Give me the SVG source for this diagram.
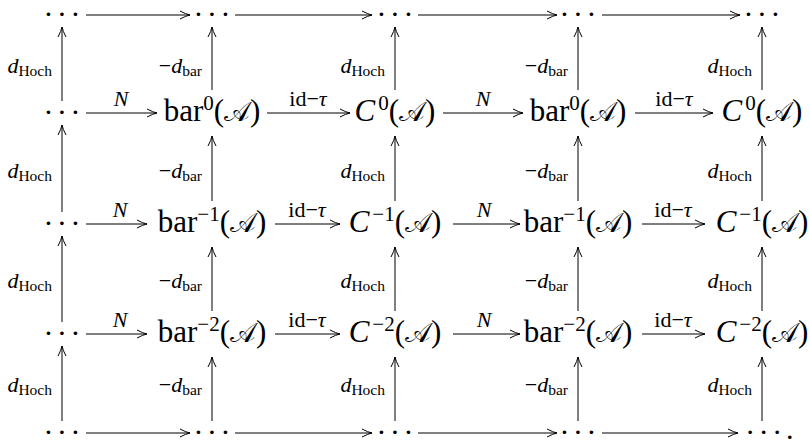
<svg xmlns="http://www.w3.org/2000/svg" width="810" height="441" viewBox="0 0 810 441">
<style>
.m{font-family:"Liberation Serif","Times New Roman",serif;font-size:31px;fill:#000}
.i{font-style:italic}
.sup{font-size:21px}
.scr{font-family:"DejaVu Serif","DejaVu Sans",serif;font-style:normal;font-size:27px}
.lbl{font-family:"Liberation Serif","Times New Roman",serif;font-size:22px;fill:#000}
.sub{font-size:15.5px}
.dots{font-family:"Liberation Serif","Times New Roman",serif;font-size:22px;font-weight:bold;letter-spacing:6.2px;fill:#000}
.ar{stroke:#000;stroke-width:1;fill:none;marker-end:url(#ah)}
</style>
<defs>
<marker id="ah" viewBox="-11 -5 12 10" refX="0" refY="0" markerWidth="12" markerHeight="10" markerUnits="userSpaceOnUse" orient="auto">
<path d="M-10,-4 Q-4,-0.8 0,0 Q-4,0.8 -10,4" fill="none" stroke="#000" stroke-width="1"/>
</marker>
</defs>

<!-- dots nodes -->
<g id="n-top-0"><text class="dots" x="65" y="21.4" text-anchor="middle">···</text></g>
<g id="n-top-1"><text class="dots" x="215" y="21.4" text-anchor="middle">···</text></g>
<g id="n-top-2"><text class="dots" x="398" y="21.4" text-anchor="middle">···</text></g>
<g id="n-top-3"><text class="dots" x="581" y="21.4" text-anchor="middle">···</text></g>
<g id="n-top-4"><text class="dots" x="765" y="21.4" text-anchor="middle">···</text></g>

<g id="n-r0-0"><text class="dots" x="65" y="119.4" text-anchor="middle">···</text></g>
<g id="n-r1-0"><text class="dots" x="65" y="230.4" text-anchor="middle">···</text></g>
<g id="n-r2-0"><text class="dots" x="65" y="340.4" text-anchor="middle">···</text></g>

<g id="n-bot-0"><text class="dots" x="65" y="439" text-anchor="middle">···</text></g>
<g id="n-bot-1"><text class="dots" x="215" y="439" text-anchor="middle">···</text></g>
<g id="n-bot-2"><text class="dots" x="398" y="439" text-anchor="middle">···</text></g>
<g id="n-bot-3"><text class="dots" x="581" y="439" text-anchor="middle">···</text></g>
<g id="n-bot-4"><text class="dots" x="746.5" y="439">···.</text></g>

<!-- row 0 -->
<g id="n-r0-1"><text class="m" x="212" y="120.5" text-anchor="middle">bar<tspan class="sup" dy="-11">0</tspan><tspan dy="11">(</tspan><tspan class="scr">𝒜</tspan>)</text></g>
<g id="n-r0-2"><text class="m" x="395" y="120.5" text-anchor="middle"><tspan class="i">C</tspan><tspan class="sup" dx="3" dy="-11">0</tspan><tspan dy="11">(</tspan><tspan class="scr">𝒜</tspan>)</text></g>
<g id="n-r0-3"><text class="m" x="578" y="120.5" text-anchor="middle">bar<tspan class="sup" dy="-11">0</tspan><tspan dy="11">(</tspan><tspan class="scr">𝒜</tspan>)</text></g>
<g id="n-r0-4"><text class="m" x="762" y="120.5" text-anchor="middle"><tspan class="i">C</tspan><tspan class="sup" dx="3" dy="-11">0</tspan><tspan dy="11">(</tspan><tspan class="scr">𝒜</tspan>)</text></g>

<!-- row -1 -->
<g id="n-r1-1"><text class="m" x="212" y="231.5" text-anchor="middle">bar<tspan class="sup" dy="-11">−1</tspan><tspan dy="11">(</tspan><tspan class="scr">𝒜</tspan>)</text></g>
<g id="n-r1-2"><text class="m" x="395" y="231.5" text-anchor="middle"><tspan class="i">C</tspan><tspan class="sup" dx="3" dy="-11">−1</tspan><tspan dy="11">(</tspan><tspan class="scr">𝒜</tspan>)</text></g>
<g id="n-r1-3"><text class="m" x="578" y="231.5" text-anchor="middle">bar<tspan class="sup" dy="-11">−1</tspan><tspan dy="11">(</tspan><tspan class="scr">𝒜</tspan>)</text></g>
<g id="n-r1-4"><text class="m" x="762" y="231.5" text-anchor="middle"><tspan class="i">C</tspan><tspan class="sup" dx="3" dy="-11">−1</tspan><tspan dy="11">(</tspan><tspan class="scr">𝒜</tspan>)</text></g>

<!-- row -2 -->
<g id="n-r2-1"><text class="m" x="212" y="341.5" text-anchor="middle">bar<tspan class="sup" dy="-11">−2</tspan><tspan dy="11">(</tspan><tspan class="scr">𝒜</tspan>)</text></g>
<g id="n-r2-2"><text class="m" x="395" y="341.5" text-anchor="middle"><tspan class="i">C</tspan><tspan class="sup" dx="3" dy="-11">−2</tspan><tspan dy="11">(</tspan><tspan class="scr">𝒜</tspan>)</text></g>
<g id="n-r2-3"><text class="m" x="578" y="341.5" text-anchor="middle">bar<tspan class="sup" dy="-11">−2</tspan><tspan dy="11">(</tspan><tspan class="scr">𝒜</tspan>)</text></g>
<g id="n-r2-4"><text class="m" x="762" y="341.5" text-anchor="middle"><tspan class="i">C</tspan><tspan class="sup" dx="3" dy="-11">−2</tspan><tspan dy="11">(</tspan><tspan class="scr">𝒜</tspan>)</text></g>

<g id="connectors">
<!-- horizontal -->
<line class="ar" x1="86" y1="15" x2="190" y2="15"/>
<line class="ar" x1="235" y1="15" x2="372" y2="15"/>
<line class="ar" x1="418" y1="15" x2="557" y2="15"/>
<line class="ar" x1="602" y1="15" x2="740" y2="15"/>

<line class="ar" x1="86" y1="113" x2="157" y2="113"/>
<line class="ar" x1="267" y1="113" x2="350" y2="113"/>
<line class="ar" x1="443" y1="113" x2="523" y2="113"/>
<line class="ar" x1="635" y1="113" x2="713" y2="113"/>

<line class="ar" x1="86" y1="224" x2="147" y2="224"/>
<line class="ar" x1="275" y1="224" x2="340" y2="224"/>
<line class="ar" x1="453" y1="224" x2="520" y2="224"/>
<line class="ar" x1="642" y1="224" x2="705" y2="224"/>

<line class="ar" x1="86" y1="334" x2="147" y2="334"/>
<line class="ar" x1="275" y1="334" x2="340" y2="334"/>
<line class="ar" x1="453" y1="334" x2="520" y2="334"/>
<line class="ar" x1="642" y1="334" x2="705" y2="334"/>

<line class="ar" x1="86" y1="433" x2="190" y2="433"/>
<line class="ar" x1="235" y1="433" x2="372" y2="433"/>
<line class="ar" x1="418" y1="433" x2="557" y2="433"/>
<line class="ar" x1="602" y1="433" x2="738" y2="433"/>

<!-- vertical -->
<line class="ar" x1="62" y1="101" x2="62" y2="27"/>
<line class="ar" x1="212" y1="90" x2="212" y2="27"/>
<line class="ar" x1="395" y1="90" x2="395" y2="27"/>
<line class="ar" x1="578" y1="90" x2="578" y2="27"/>
<line class="ar" x1="762" y1="90" x2="762" y2="27"/>

<line class="ar" x1="62" y1="212" x2="62" y2="125"/>
<line class="ar" x1="212" y1="201" x2="212" y2="136"/>
<line class="ar" x1="395" y1="201" x2="395" y2="136"/>
<line class="ar" x1="578" y1="201" x2="578" y2="136"/>
<line class="ar" x1="762" y1="201" x2="762" y2="136"/>

<line class="ar" x1="62" y1="322" x2="62" y2="236"/>
<line class="ar" x1="212" y1="311" x2="212" y2="247"/>
<line class="ar" x1="395" y1="311" x2="395" y2="247"/>
<line class="ar" x1="578" y1="311" x2="578" y2="247"/>
<line class="ar" x1="762" y1="311" x2="762" y2="247"/>

<line class="ar" x1="62" y1="421" x2="62" y2="346"/>
<line class="ar" x1="212" y1="421" x2="212" y2="357"/>
<line class="ar" x1="395" y1="421" x2="395" y2="357"/>
<line class="ar" x1="578" y1="421" x2="578" y2="357"/>
<line class="ar" x1="762" y1="421" x2="762" y2="357"/>

<!-- horizontal labels -->
<text class="lbl i" x="121" y="106" text-anchor="middle">N</text>
<text class="lbl" x="308" y="106" text-anchor="middle">id−<tspan class="i">τ</tspan></text>
<text class="lbl i" x="483" y="106" text-anchor="middle">N</text>
<text class="lbl" x="674" y="106" text-anchor="middle">id−<tspan class="i">τ</tspan></text>

<text class="lbl i" x="120" y="217" text-anchor="middle">N</text>
<text class="lbl" x="307" y="217" text-anchor="middle">id−<tspan class="i">τ</tspan></text>
<text class="lbl i" x="484" y="217" text-anchor="middle">N</text>
<text class="lbl" x="673" y="217" text-anchor="middle">id−<tspan class="i">τ</tspan></text>

<text class="lbl i" x="120" y="327" text-anchor="middle">N</text>
<text class="lbl" x="307" y="327" text-anchor="middle">id−<tspan class="i">τ</tspan></text>
<text class="lbl i" x="484" y="327" text-anchor="middle">N</text>
<text class="lbl" x="673" y="327" text-anchor="middle">id−<tspan class="i">τ</tspan></text>

<!-- vertical labels -->
<text class="lbl" x="52" y="73" text-anchor="end"><tspan class="i">d</tspan><tspan class="sub" dy="3">Hoch</tspan></text>
<text class="lbl" x="202" y="73" text-anchor="end">−<tspan class="i">d</tspan><tspan class="sub" dy="3">bar</tspan></text>
<text class="lbl" x="385" y="73" text-anchor="end"><tspan class="i">d</tspan><tspan class="sub" dy="3">Hoch</tspan></text>
<text class="lbl" x="568" y="73" text-anchor="end">−<tspan class="i">d</tspan><tspan class="sub" dy="3">bar</tspan></text>
<text class="lbl" x="752" y="73" text-anchor="end"><tspan class="i">d</tspan><tspan class="sub" dy="3">Hoch</tspan></text>

<text class="lbl" x="52" y="177.5" text-anchor="end"><tspan class="i">d</tspan><tspan class="sub" dy="3">Hoch</tspan></text>
<text class="lbl" x="202" y="177.5" text-anchor="end">−<tspan class="i">d</tspan><tspan class="sub" dy="3">bar</tspan></text>
<text class="lbl" x="385" y="177.5" text-anchor="end"><tspan class="i">d</tspan><tspan class="sub" dy="3">Hoch</tspan></text>
<text class="lbl" x="568" y="177.5" text-anchor="end">−<tspan class="i">d</tspan><tspan class="sub" dy="3">bar</tspan></text>
<text class="lbl" x="752" y="177.5" text-anchor="end"><tspan class="i">d</tspan><tspan class="sub" dy="3">Hoch</tspan></text>

<text class="lbl" x="52" y="288" text-anchor="end"><tspan class="i">d</tspan><tspan class="sub" dy="3">Hoch</tspan></text>
<text class="lbl" x="202" y="288" text-anchor="end">−<tspan class="i">d</tspan><tspan class="sub" dy="3">bar</tspan></text>
<text class="lbl" x="385" y="288" text-anchor="end"><tspan class="i">d</tspan><tspan class="sub" dy="3">Hoch</tspan></text>
<text class="lbl" x="568" y="288" text-anchor="end">−<tspan class="i">d</tspan><tspan class="sub" dy="3">bar</tspan></text>
<text class="lbl" x="752" y="288" text-anchor="end"><tspan class="i">d</tspan><tspan class="sub" dy="3">Hoch</tspan></text>

<text class="lbl" x="52" y="392" text-anchor="end"><tspan class="i">d</tspan><tspan class="sub" dy="3">Hoch</tspan></text>
<text class="lbl" x="202" y="392" text-anchor="end">−<tspan class="i">d</tspan><tspan class="sub" dy="3">bar</tspan></text>
<text class="lbl" x="385" y="392" text-anchor="end"><tspan class="i">d</tspan><tspan class="sub" dy="3">Hoch</tspan></text>
<text class="lbl" x="568" y="392" text-anchor="end">−<tspan class="i">d</tspan><tspan class="sub" dy="3">bar</tspan></text>
<text class="lbl" x="752" y="392" text-anchor="end"><tspan class="i">d</tspan><tspan class="sub" dy="3">Hoch</tspan></text>
</g>
</svg>
